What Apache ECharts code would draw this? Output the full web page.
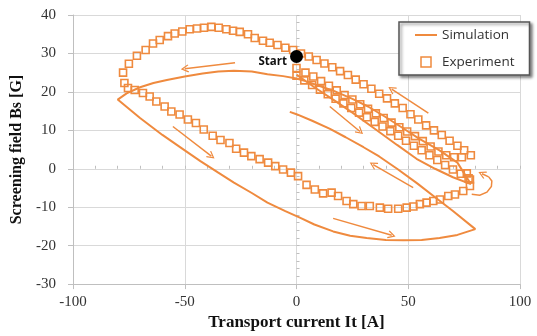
<!DOCTYPE html>
<html><head><meta charset="utf-8">
<script src="https://cdn.jsdelivr.net/npm/echarts@6/dist/echarts.min.js"></script>
<style>html,body{margin:0;padding:0;background:#fff}#c{width:537px;height:336px}</style>
</head><body><div id="c"></div>
<script>
// ---- data ----
var xTicks = [-100, -50, 0, 50, 100];
var yTicks = [-30, -20, -10, 0, 10, 20, 30, 40];
var startPoint = [[0, 29.2]];
// Simulation (connected in order)
var simInitial = [[0,24.5],[8,21.2],[16.4,18],[25,14.6],[35,10.4],[45,6.2],[53.7,2.6],[62,0],[70,-2.2],[78,-4]];
var simUpper = [[78,-4],[72,1.6],[64,4.8],[55,7.8],[47,10.8],[40,13.4],[32,16.2],[25,18.2],[17,20.2],[10,21.6],[4,22.8],[0,23.5],[-6,24.1],[-13,24.6],[-20,25.3],[-28,25.5],[-35,25.3],[-42,24.8],[-50,24],[-58,23.1],[-64,22.3],[-70,21.2],[-76,19.6],[-80,18]];
var simLower = [[-80,18],[-70,13.2],[-60,8.8],[-50,4.8],[-43,2],[-35,-1],[-28,-3.6],[-20,-6.3],[-13,-8.8],[-5,-11],[1.5,-12.7],[8,-14.5],[16.4,-16.3],[24,-17.4],[31.4,-18],[40,-18.5],[48,-18.6],[56,-18.5],[64,-18],[72,-17.2],[80,-15.7]];
var simReturn = [[80,-15.7],[70,-11],[62,-7.4],[54,-3.8],[45,0],[37,3.2],[30,5.6],[22,8.2],[15,10.4],[7,12.5],[0,14.2],[-3,14.8]];
// Experiment squares
var expUpper = [[78,3.5],[75,4.8],[72,6],[68.5,7.3],[65,8.8],[61.5,10],[58,11.3],[54.5,12.8],[51,14.2],[47.5,15.8],[44,17],[40.5,18.3],[37,19.5],[33.5,20.8],[30,22],[26.5,23.2],[23,24.4],[19.5,25.4],[16,26.4],[12.5,27.4],[9,28.3],[5.5,29.2],[2,30],[-1.5,30.9],[-5,31.5],[-8.5,32.2],[-12,32.8],[-15,33.3],[-18.7,34],[-21.7,35],[-25.4,35.6],[-28.4,35.9],[-31.4,36.3],[-34.8,36.7],[-38.1,36.9],[-41.4,36.7],[-44.5,36.5],[-47.8,36.3],[-51.1,35.7],[-54.5,35.2],[-57.5,34.5],[-61.2,33.5],[-64.2,32.6],[-67.5,30.9],[-71.4,29.4],[-75,27.3],[-77.6,25]];
var expLower = [[-77,22.3],[-75.4,21],[-72.4,20.5],[-68.7,19.7],[-65.7,18.8],[-62.7,17.5],[-59,16.2],[-56,14.9],[-52.3,14.1],[-48.6,12.8],[-45,11.9],[-41.5,10.2],[-37.5,8.6],[-34,7.5],[-30,6.7],[-27,5.2],[-23.5,4.2],[-20.2,3.3],[-16.5,2.5],[-12.7,1.6],[-9.5,0.7],[-6,-0.2],[-2.5,-1],[0.7,-1.9],[4.5,-4.2],[8.2,-5.4],[11.9,-6.4],[15.7,-6.2],[18.6,-7.1],[22.4,-8.4],[25.4,-9.2],[29.1,-9.7],[32.8,-9.7],[37.3,-10.1],[41,-10.4],[45.5,-10.4],[49.3,-10.1],[52.3,-9.8],[55.2,-9.2],[58.2,-8.8],[61.2,-8.4],[64.2,-8],[67.9,-7.1],[70.9,-6.7],[74.6,-5.8],[77.6,-4.5],[77.6,-2.8],[76.2,-1.2]];
var expMiddle = [[0,26.2],[4,25],[7.5,24],[11,22.8],[14.5,21.6],[18,20.4],[21.5,19.2],[25,18],[28.5,16.8],[32,15.6],[35.5,14.4],[39,13.2],[42.5,12],[46,10.8],[49.5,9.7],[53,8.5],[56.5,7.2],[60,5.8],[63.5,4.5],[67,3.5],[70.5,3],[74,3]];
var expInitial = [[0,24.2],[3.5,23],[7,21.8],[10.5,20.6],[14,19.4],[17.5,18.2],[21,17],[24.5,15.8],[28,14.6],[31.5,13.4],[35,12.2],[38.5,11],[42,9.8],[45.5,8.6],[49,7.3],[52.5,6],[56,4.8],[59.5,3.5],[63,2.3],[66.5,1],[70,-0.2],[73.5,-1.3],[77,-2.5]];
// annotation arrows: [from, to]
var arrows = [
  [[-27.5,27.6],[-50,26]],
  [[-55.3,11],[-38.1,3.3]],
  [[14.9,16.2],[28.4,9.7]],
  [[59,14.5],[42.6,20.7]],
  [[52.2,-4.9],[34.3,1.1]],
  [[16.4,-12.9],[42.6,-17.3]]
];
// curved arrow at the right turning point (body + final segment with head)
var curvedBody = [[78.4,-6.6],[82,-6.9],[85.2,-6.1],[87.2,-4.6],[87.4,-3.2],[86,-2.1]];
var curvedHead = [[86,-2.1],[83,-1.3]];

var ORANGE = '#EF8A3E';
var chevron = 'path://M5,0 L10,9 L8.8,10 L5,3 L1.2,10 L0,9 Z';
var simData = simInitial.concat(simUpper.slice(1), simLower.slice(1), simReturn.slice(1));
var expData = expInitial.concat(expUpper, expLower, expMiddle);

var chart = echarts.init(document.getElementById('c'), null, {renderer: 'canvas'});
var axisCommon = {
  axisLine: {show: true, onZero: false, lineStyle: {color: '#bfbfbf', width: 1}},
  axisTick: {show: true, length: 5, lineStyle: {color: '#bfbfbf'}},
  splitLine: {show: true, lineStyle: {color: '#d9d9d9', width: 1}},
  axisLabel: {fontFamily: 'Liberation Serif', fontSize: 15, color: '#333'}
};
chart.setOption({
  animation: false,
  backgroundColor: '#fff',
  grid: {left: 73, right: 17, top: 15, bottom: 51},
  legend: {
    orient: 'vertical', left: 399, top: 22,
    data: [
      {name: 'Simulation', icon: 'path://M0,4 L22,4 L22,6 L0,6 Z', itemStyle: {color: ORANGE, borderWidth: 0}},
      {name: 'Experiment', icon: 'path://M0,0 L10,0 L10,10 L0,10 Z', itemStyle: {color: 'rgba(255,255,255,0)', borderColor: ORANGE, borderWidth: 1.5}}
    ],
    symbolKeepAspect: true,
    padding: [6, 15, 6, 16], itemGap: 13, itemWidth: 22, itemHeight: 10,
    backgroundColor: '#fff', borderColor: '#555', borderWidth: 1.5,
    shadowColor: 'rgba(0,0,0,0.45)', shadowBlur: 3, shadowOffsetX: 2, shadowOffsetY: 2,
    textStyle: {fontFamily: 'Open Sans', fontSize: 13.5, color: '#333'}
  },
  xAxis: [Object.assign({}, axisCommon, {
    type: 'value', min: -100, max: 100, interval: 50,
    axisLabel: Object.assign({}, axisCommon.axisLabel, {margin: 10}),
    name: 'Transport current It [A]', nameLocation: 'middle', nameGap: 29,
    nameTextStyle: {fontFamily: 'Liberation Serif', fontWeight: 'bold', fontSize: 17, color: '#111'}
  }), {
    type: 'value', min: -100, max: 100, interval: 10, position: 'bottom',
    axisLine: {show: false}, axisLabel: {show: false}, splitLine: {show: false},
    axisTick: {show: true, inside: true, length: 3, lineStyle: {color: '#bfbfbf'}}
  }],
  yAxis: [Object.assign({}, axisCommon, {
    type: 'value', min: -30, max: 40, interval: 10,
    axisLabel: Object.assign({}, axisCommon.axisLabel, {margin: 17}),
    name: 'Screening field Bs [G]', nameLocation: 'middle', nameGap: 34,
    nameTextStyle: {fontFamily: 'Liberation Serif', fontWeight: 'bold', fontSize: 16, color: '#111'}
  }), {
    type: 'value', min: -30, max: 40, interval: 2, position: 'left',
    axisLine: {show: false}, axisLabel: {show: false}, splitLine: {show: false},
    axisTick: {show: true, inside: true, length: 3, lineStyle: {color: '#bfbfbf'}}
  }],
  series: [
    {
      name: 'Simulation', type: 'line', data: simData, showSymbol: false, symbol: 'none',
      lineStyle: {color: ORANGE, width: 2}, itemStyle: {color: ORANGE}, z: 3
    },
    {
      name: 'Experiment', type: 'scatter', data: expData, symbol: 'rect', symbolSize: 7,
      itemStyle: {color: 'rgba(255,255,255,0)', borderColor: ORANGE, borderWidth: 1.6, opacity: 1}, z: 4
    },
    {
      name: 'arrows', type: 'lines', coordinateSystem: 'cartesian2d', silent: true,
      symbol: ['none', chevron], symbolSize: [8, 8],
      lineStyle: {color: ORANGE, width: 1.5, opacity: 1},
      data: arrows.map(function (a) { return {coords: a}; }).concat([{coords: curvedHead}]), z: 5
    },
    {
      name: 'curved', type: 'lines', coordinateSystem: 'cartesian2d', silent: true, polyline: true,
      lineStyle: {color: ORANGE, width: 1.5, opacity: 1},
      data: [{coords: curvedBody}], z: 5
    },
    {
      name: 'Start', type: 'scatter', data: startPoint, symbol: 'circle', symbolSize: 13,
      itemStyle: {color: '#000', opacity: 1}, z: 6,
      label: {show: true, formatter: 'Start', position: 'left', distance: 3, offset: [0, 5],
        fontFamily: 'Open Sans', fontWeight: 'bold', fontSize: 11.5, color: '#111'}
    }
  ]
});
</script></body></html>
